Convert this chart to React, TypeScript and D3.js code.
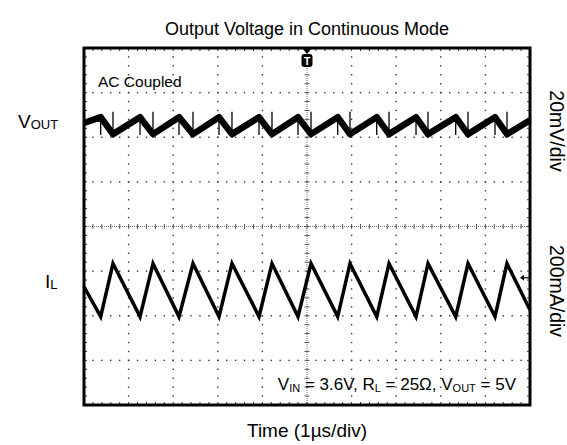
import React, { useEffect } from 'react';
import * as d3 from 'd3';

// time in µs (1 µs/div), levels in screen divisions (0 = centre line)
const ilTimes = [0, 0.374, 0.65, 1.256, 1.547, 2.13, 2.444, 3.027, 3.318, 3.924, 4.215, 4.798, 5.09, 5.688, 5.964, 6.563, 6.839, 7.444, 7.713, 8.334, 8.61, 9.215, 9.484, 10];
const ilLevels = [-1.35, -2.02, -0.83, -2.02, -0.83, -2.02, -0.83, -2.02, -0.83, -2.02, -0.83, -2.02, -0.83, -2.02, -0.83, -2.02, -0.83, -2.02, -0.83, -2.02, -0.83, -2.02, -0.83, -1.87];
const voutLevels = [2.32, 2.45, 2.07, 2.45, 2.07, 2.45, 2.07, 2.45, 2.07, 2.45, 2.07, 2.45, 2.07, 2.45, 2.07, 2.45, 2.07, 2.45, 2.07, 2.45, 2.07, 2.45, 2.07, 2.38];
// switching spikes on Vout: [time, top, bottom]
const spikes = ilTimes.slice(1, -1).map((t, i) => (i % 2 === 0 ? [t, voutLevels[i + 1] + 0.05, voutLevels[i + 1] - 0.4] : [t, voutLevels[i + 1] + 0.5, voutLevels[i + 1] - 0.08]));
const triggerLevel = -1.15;

const W = 567;
const H = 445;
const left = 84, right = 530, top = 48, bottom = 405;
const font = "'Liberation Sans', Arial, sans-serif";

export default function App() {
  useEffect(() => {
    document.body.style.margin = '0';
  }, []);

  const x = d3.scaleLinear().domain([0, 10]).range([left, right]);
  const y = d3.scaleLinear().domain([-4, 4]).range([bottom, top]);

  const line = d3.line<number>().x((_d, i) => x(ilTimes[i])).y(d => y(d));

  const minor = d3.range(0, 50.5).map(i => i * 0.2);
  const minorY = d3.range(0, 40.5).map(i => -4 + i * 0.2);

  const dots: React.ReactNode[] = [];
  [1, 2, 3, 4, 6, 7, 8, 9].forEach(t =>
    minorY.slice(1, -1).forEach(v => dots.push(<rect key={`v${t}_${v}`} x={x(t) - 0.7} y={y(v) - 0.7} width={1.4} height={1.4} fill="#333" />))
  );
  [-3, -2, -1, 1, 2, 3].forEach(v =>
    minor.slice(1, -1).forEach(t => dots.push(<rect key={`h${v}_${t}`} x={x(t) - 0.7} y={y(v) - 0.7} width={1.4} height={1.4} fill="#333" />))
  );

  const ticks: React.ReactNode[] = [];
  minor.slice(1, -1).forEach(t => {
    ticks.push(<line key={`ct${t}`} x1={x(t)} x2={x(t)} y1={y(0) - 2.5} y2={y(0) + 2.5} stroke="#555" />);
    ticks.push(<line key={`tt${t}`} x1={x(t)} x2={x(t)} y1={top} y2={top + 3} stroke="#333" />);
    ticks.push(<line key={`bt${t}`} x1={x(t)} x2={x(t)} y1={bottom - 3} y2={bottom} stroke="#333" />);
  });
  minorY.slice(1, -1).forEach(v => {
    ticks.push(<line key={`cv${v}`} x1={x(5) - 2.5} x2={x(5) + 2.5} y1={y(v)} y2={y(v)} stroke="#555" />);
    ticks.push(<line key={`lt${v}`} x1={left} x2={left + 3} y1={y(v)} y2={y(v)} stroke="#333" />);
    ticks.push(<line key={`rt${v}`} x1={right - 3} x2={right} y1={y(v)} y2={y(v)} stroke="#333" />);
  });

  const tx = x(5);
  const ty = y(triggerLevel);

  return (
    <svg width={W} height={H} style={{ display: 'block', background: '#fff' }} fontFamily={font}>
      <text x={tx} y={35} textAnchor="middle" fontSize={18}>Output Voltage in Continuous Mode</text>

      {dots}
      <line x1={left} x2={right} y1={y(0)} y2={y(0)} stroke="#777" strokeDasharray="1,1" />
      <line x1={tx} x2={tx} y1={top} y2={bottom} stroke="#777" strokeDasharray="1,1" />
      {ticks}

      <path d={line(voutLevels) || ''} fill="none" stroke="#000" strokeWidth={6.5} strokeLinejoin="round" />
      {spikes.map(([t, a, b], i) => (
        <line key={`s${i}`} x1={x(t)} x2={x(t)} y1={y(a)} y2={y(b)} stroke="#000" strokeWidth={1.3} />
      ))}
      <path d={line(ilLevels) || ''} fill="none" stroke="#000" strokeWidth={3.5} strokeLinejoin="miter" />

      <rect x={left} y={top} width={right - left} height={bottom - top} fill="none" stroke="#000" strokeWidth={3} />

      <path d={`M${tx - 5},${top} L${tx + 5},${top} L${tx},${top + 6} Z`} fill="#000" />
      <rect x={tx - 5.5} y={top + 6} width={11} height={13} rx={3} fill="#000" />
      <text x={tx} y={top + 17} textAnchor="middle" fontSize={11} fontWeight="bold" fill="#fff">T</text>

      <line x1={right - 8} x2={right} y1={ty} y2={ty} stroke="#000" strokeWidth={1.2} />
      <path d={`M${right - 10},${ty} L${right - 6},${ty - 3} L${right - 6},${ty + 3} Z`} fill="#000" />

      <text x={98} y={87} fontSize={15.5}>AC Coupled</text>

      <text x={18} y={128} fontSize={19}>V<tspan fontSize={13} dy={1}>OUT</tspan></text>
      <text x={45} y={288} fontSize={19}>I<tspan fontSize={13} dy={1}>L</tspan></text>

      <text transform={`translate(${550},${131}) rotate(90)`} textAnchor="middle" fontSize={19.5}>20mV/div</text>
      <text transform={`translate(${550},${291}) rotate(90)`} textAnchor="middle" fontSize={19.5}>200mA/div</text>

      <text x={516} y={390} textAnchor="end" fontSize={17}>
        V<tspan fontSize={11} dy={2}>IN</tspan><tspan dy={-2}> = 3.6V, R</tspan><tspan fontSize={11} dy={2}>L</tspan><tspan dy={-2}> = 25Ω, V</tspan><tspan fontSize={11} dy={2}>OUT</tspan><tspan dy={-2}> = 5V</tspan>
      </text>

      <text x={tx} y={437} textAnchor="middle" fontSize={19}>Time (1µs/div)</text>
    </svg>
  );
}
